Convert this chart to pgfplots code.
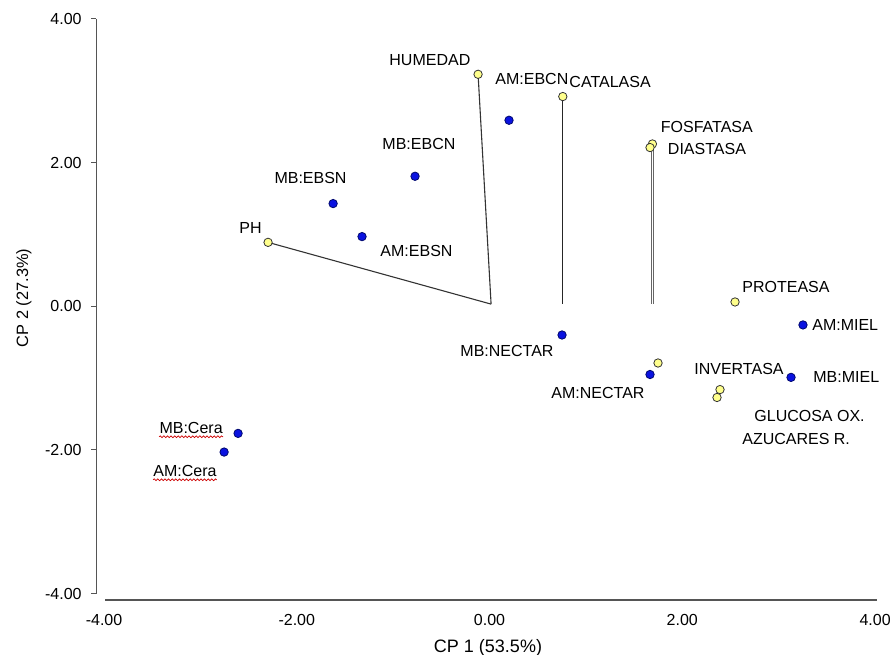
\documentclass[border=0pt]{standalone}
\usepackage{fontspec}
\setmainfont{Liberation Sans}
\usepackage{pgfplots}
\pgfplotsset{compat=1.18}
\usepackage{pgfplotstable}
\usetikzlibrary{decorations.pathmorphing}
\definecolor{ptblue}{HTML}{0A12E0}
\definecolor{ptblueedge}{HTML}{00086E}
\definecolor{ptyellow}{HTML}{FFFF8C}
\definecolor{axgray}{HTML}{555555}

% observations (blue)
\pgfplotstableread{
x y
0.202 2.59
-0.773 1.81
-1.623 1.43
-1.323 0.97
0.752 -0.40
1.665 -0.95
3.252 -0.26
3.128 -0.99
-2.609 -1.77
-2.754 -2.03
}\obs

% variables (yellow)
\pgfplotstableread{
x y
-0.119 3.23
0.760 2.92
1.690 2.26
1.665 2.21
-2.298 0.89
2.547 0.06
1.748 -0.79
2.391 -1.16
2.360 -1.27
}\vars

\begin{document}
\begin{tikzpicture}[font=\fontsize{8bp}{9.6bp}\selectfont]
\useasboundingbox (0,0) rectangle (445bp,327.5bp);
\begin{axis}[
  at={(48.25bp,27.5bp)}, anchor=south west,
  scale only axis, width=390.25bp, height=290.5bp,
  xmin=-4.078, xmax=4.02, ymin=-4.09, ymax=4.0,
  axis x line*=bottom, axis y line*=left,
  axis line style={draw=none},
  clip=false,
  xtick={-4,-2,0,2,4}, ytick={-4,-2,0,2,4},
  tick align=inside,
  major tick length=2.5bp,
  xtick style={draw=none},
  ytick style={draw=axgray, line width=0.5bp, xshift=-2.5bp},
  xticklabel style={anchor=center, inner sep=0pt, yshift=-10bp, font=\fontsize{8bp}{9.6bp}\selectfont},
  yticklabel style={anchor=east, inner sep=0pt, xshift=-7.25bp, font=\fontsize{8bp}{9.6bp}\selectfont},
  xlabel={CP 1 (53.5\%)},
  ylabel={CP 2 (27.3\%)},
  every axis x label/.style={at={(axis description cs:0.5016,-0.0826)}, anchor=center, font=\fontsize{9bp}{10.8bp}\selectfont},
  every axis y label/.style={at={(axis description cs:-0.093,0.52)}, anchor=center, rotate=90, font=\fontsize{8.2bp}{9.8bp}\selectfont},
  /pgf/number format/fixed,
  /pgf/number format/fixed zerofill,
  /pgf/number format/precision=2,
  /pgf/number format/assume math mode=true,
]
% axis lines (detached)
\draw[axgray, line width=0.6bp] (axis cs:-4.078,-4) -- (axis cs:-4.078,4);
\draw[axgray, line width=0.6bp] (axis cs:-3.985,-4.09) -- (axis cs:4.02,-4.09);

% vectors
\addplot[black!80, line width=0.55bp] coordinates {(-2.298,0.89) (0.016,0.03)};
\addplot[black!80, line width=0.55bp] coordinates {(-0.119,3.23) (0.016,0.03)};
\addplot[black!85, line width=0.55bp] coordinates {(0.760,2.92) (0.760,0.03)};
\addplot[black!60, line width=0.5bp] coordinates {(1.680,2.21) (1.680,0.03)};
\addplot[black!60, line width=0.5bp] coordinates {(1.705,2.26) (1.705,0.03)};

\addplot[only marks, mark=*, mark size=2.1bp, mark options={fill=ptyellow, draw=black!80, line width=0.4bp}] table[x=x,y=y] {\vars};
\addplot[only marks, mark=*, mark size=2.1bp, mark options={fill=ptblue, draw=ptblueedge, line width=0.4bp}] table[x=x,y=y] {\obs};

% labels
\tikzset{lbl/.style={anchor=west, inner sep=0pt}}
\node[lbl] at (axis cs:-1.043,3.426) {HUMEDAD};
\node[lbl] at (axis cs:0.057,3.162) {AM:EBCN};
\node[lbl] at (axis cs:0.825,3.120) {CATALASA};
\node[lbl] at (axis cs:-1.115,2.256) {MB:EBCN};
\node[lbl] at (axis cs:-2.235,1.783) {MB:EBSN};
\node[lbl] at (axis cs:-2.599,1.086) {PH};
\node[lbl] at (axis cs:-1.136,0.766) {AM:EBSN};
\node[lbl] at (axis cs:1.774,2.493) {FOSFATASA};
\node[lbl] at (axis cs:1.847,2.187) {DIASTASA};
\node[lbl] at (axis cs:2.619,0.265) {PROTEASA};
\node[lbl] at (axis cs:3.345,-0.265) {AM:MIEL};
\node[lbl] at (axis cs:3.356,-0.989) {MB:MIEL};
\node[lbl] at (axis cs:2.121,-0.877) {INVERTASA};
\node[lbl] at (axis cs:2.744,-1.532) {GLUCOSA OX.};
\node[lbl] at (axis cs:2.619,-1.852) {AZUCARES R.};
\node[lbl] at (axis cs:-0.306,-0.627) {MB:NECTAR};
\node[lbl] at (axis cs:0.638,-1.212) {AM:NECTAR};
\node[lbl] (mbc) at (axis cs:-3.428,-1.699) {MB:Cera};
\node[lbl] (amc) at (axis cs:-3.491,-2.298) {AM:Cera};
\draw[red!80!black, line width=0.35bp, decorate, decoration={snake, amplitude=0.45bp, segment length=1.8bp}] ([yshift=-1.2bp]mbc.south west) -- ([yshift=-1.2bp]mbc.south east);
\draw[red!80!black, line width=0.35bp, decorate, decoration={snake, amplitude=0.45bp, segment length=1.8bp}] ([yshift=-1.2bp]amc.south west) -- ([yshift=-1.2bp]amc.south east);
\end{axis}
\end{tikzpicture}
\end{document}
